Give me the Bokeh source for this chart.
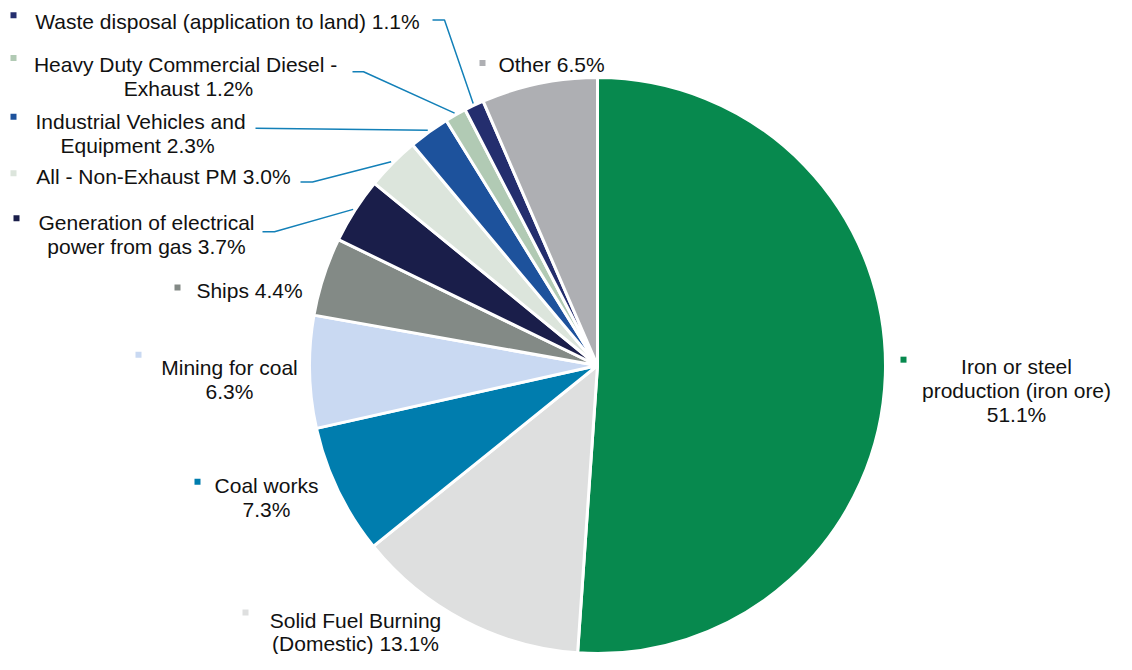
import math
from bokeh.plotting import figure
from bokeh.models import ColumnDataSource, Range1d
from bokeh.core.properties import value
from bokeh.embed import file_html
from bokeh.resources import INLINE

# ---- data ----
categories = [
    "Iron or steel production (iron ore)",
    "Solid Fuel Burning (Domestic)",
    "Coal works",
    "Mining for coal",
    "Ships",
    "Generation of electrical power from gas",
    "All - Non-Exhaust PM",
    "Industrial Vehicles and Equipment",
    "Heavy Duty Commercial Diesel - Exhaust",
    "Waste disposal (application to land)",
    "Other",
]
shares = [51.1, 13.1, 7.3, 6.3, 4.4, 3.7, 3.0, 2.3, 1.2, 1.1, 6.5]
colors = ["#07894e", "#dedfdf", "#007dae", "#c9d9f2", "#838a86", "#1a1e4a",
          "#dce5dc", "#1d529c", "#b1cab4", "#242e6e", "#aeafb3"]
label_texts = [
    "Iron or steel\nproduction (iron ore)\n51.1%",
    "Solid Fuel Burning\n(Domestic) 13.1%",
    "Coal works\n7.3%",
    "Mining for coal\n6.3%",
    "Ships 4.4%",
    "Generation of electrical\npower from gas 3.7%",
    "All - Non-Exhaust PM 3.0%",
    "Industrial Vehicles and\nEquipment  2.3%",
    "Heavy Duty Commercial  Diesel -\nExhaust 1.2%",
    "Waste disposal (application to land) 1.1%",
    "Other 6.5%",
]

# ---- layout (picture pixel coordinates) ----
W, H = 1116, 654
VS = 0.976  # vertical squeeze to fit the window

def Y(py):
    return H - py * VS

cx, cy, R = 597, 374, 288
label_pos = [(1016, 400), (355, 647), (266, 509), (229, 388), (249, 297),
             (146, 240), (163, 180), (140, 136), (188, 78), (227, 22), (551, 66)]
marker_pos = [(903, 368), (245, 627), (197, 493), (138, 363), (177, 294),
              (16, 223), (13, 177), (13, 119), (13, 59), (13, 15), (482, 64)]
leader_start = {5: [(262, 237), (274, 237)], 6: [(300, 186), (312, 186)],
                7: [(255, 131)], 8: [(352, 73), (363, 73)], 9: [(432, 20), (444, 20)]}

total = sum(shares)
starts, ends, mids = [], [], []
cum = 0.0
for s in shares:
    a0 = math.pi / 2 - 2 * math.pi * cum / total
    cum += s
    a1 = math.pi / 2 - 2 * math.pi * cum / total
    starts.append(a0)
    ends.append(a1)
    mids.append((a0 + a1) / 2)

p = figure(width=W, height=H, output_backend="svg", toolbar_location=None,
           x_range=Range1d(0, W), y_range=Range1d(0, H), min_border=0)
p.axis.visible = False
p.grid.visible = False
p.outline_line_color = None
p.background_fill_color = "white"

src = ColumnDataSource(dict(cat=categories, share=shares, color=colors,
                            start=starts, end=ends))
p.wedge(x=cx, y=Y(cy), radius=R, start_angle="start", end_angle="end",
        direction="clock", fill_color="color", line_color="white",
        line_width=3, source=src)

# leader lines
for i, pts in leader_start.items():
    ex = cx + (R + 2) * math.cos(mids[i])
    ey = Y(cy) + (R + 2) * math.sin(mids[i])
    xs = [q[0] for q in pts] + [ex]
    ys = [Y(q[1]) for q in pts] + [ey]
    p.line(xs, ys, line_color="#1380b8", line_width=1.5)

# markers
p.scatter([m[0] for m in marker_pos], [Y(m[1]) for m in marker_pos],
          marker="square", size=6, fill_color=colors, line_color=None)

# labels
p.text([l[0] for l in label_pos], [Y(l[1]) for l in label_pos], text=label_texts,
       text_font=value("Liberation Sans"), text_font_size="21px",
       text_color="#111111", text_align="center", text_baseline="middle",
       text_line_height=1.04)

open("out.html", "w").write(file_html(p, INLINE))
